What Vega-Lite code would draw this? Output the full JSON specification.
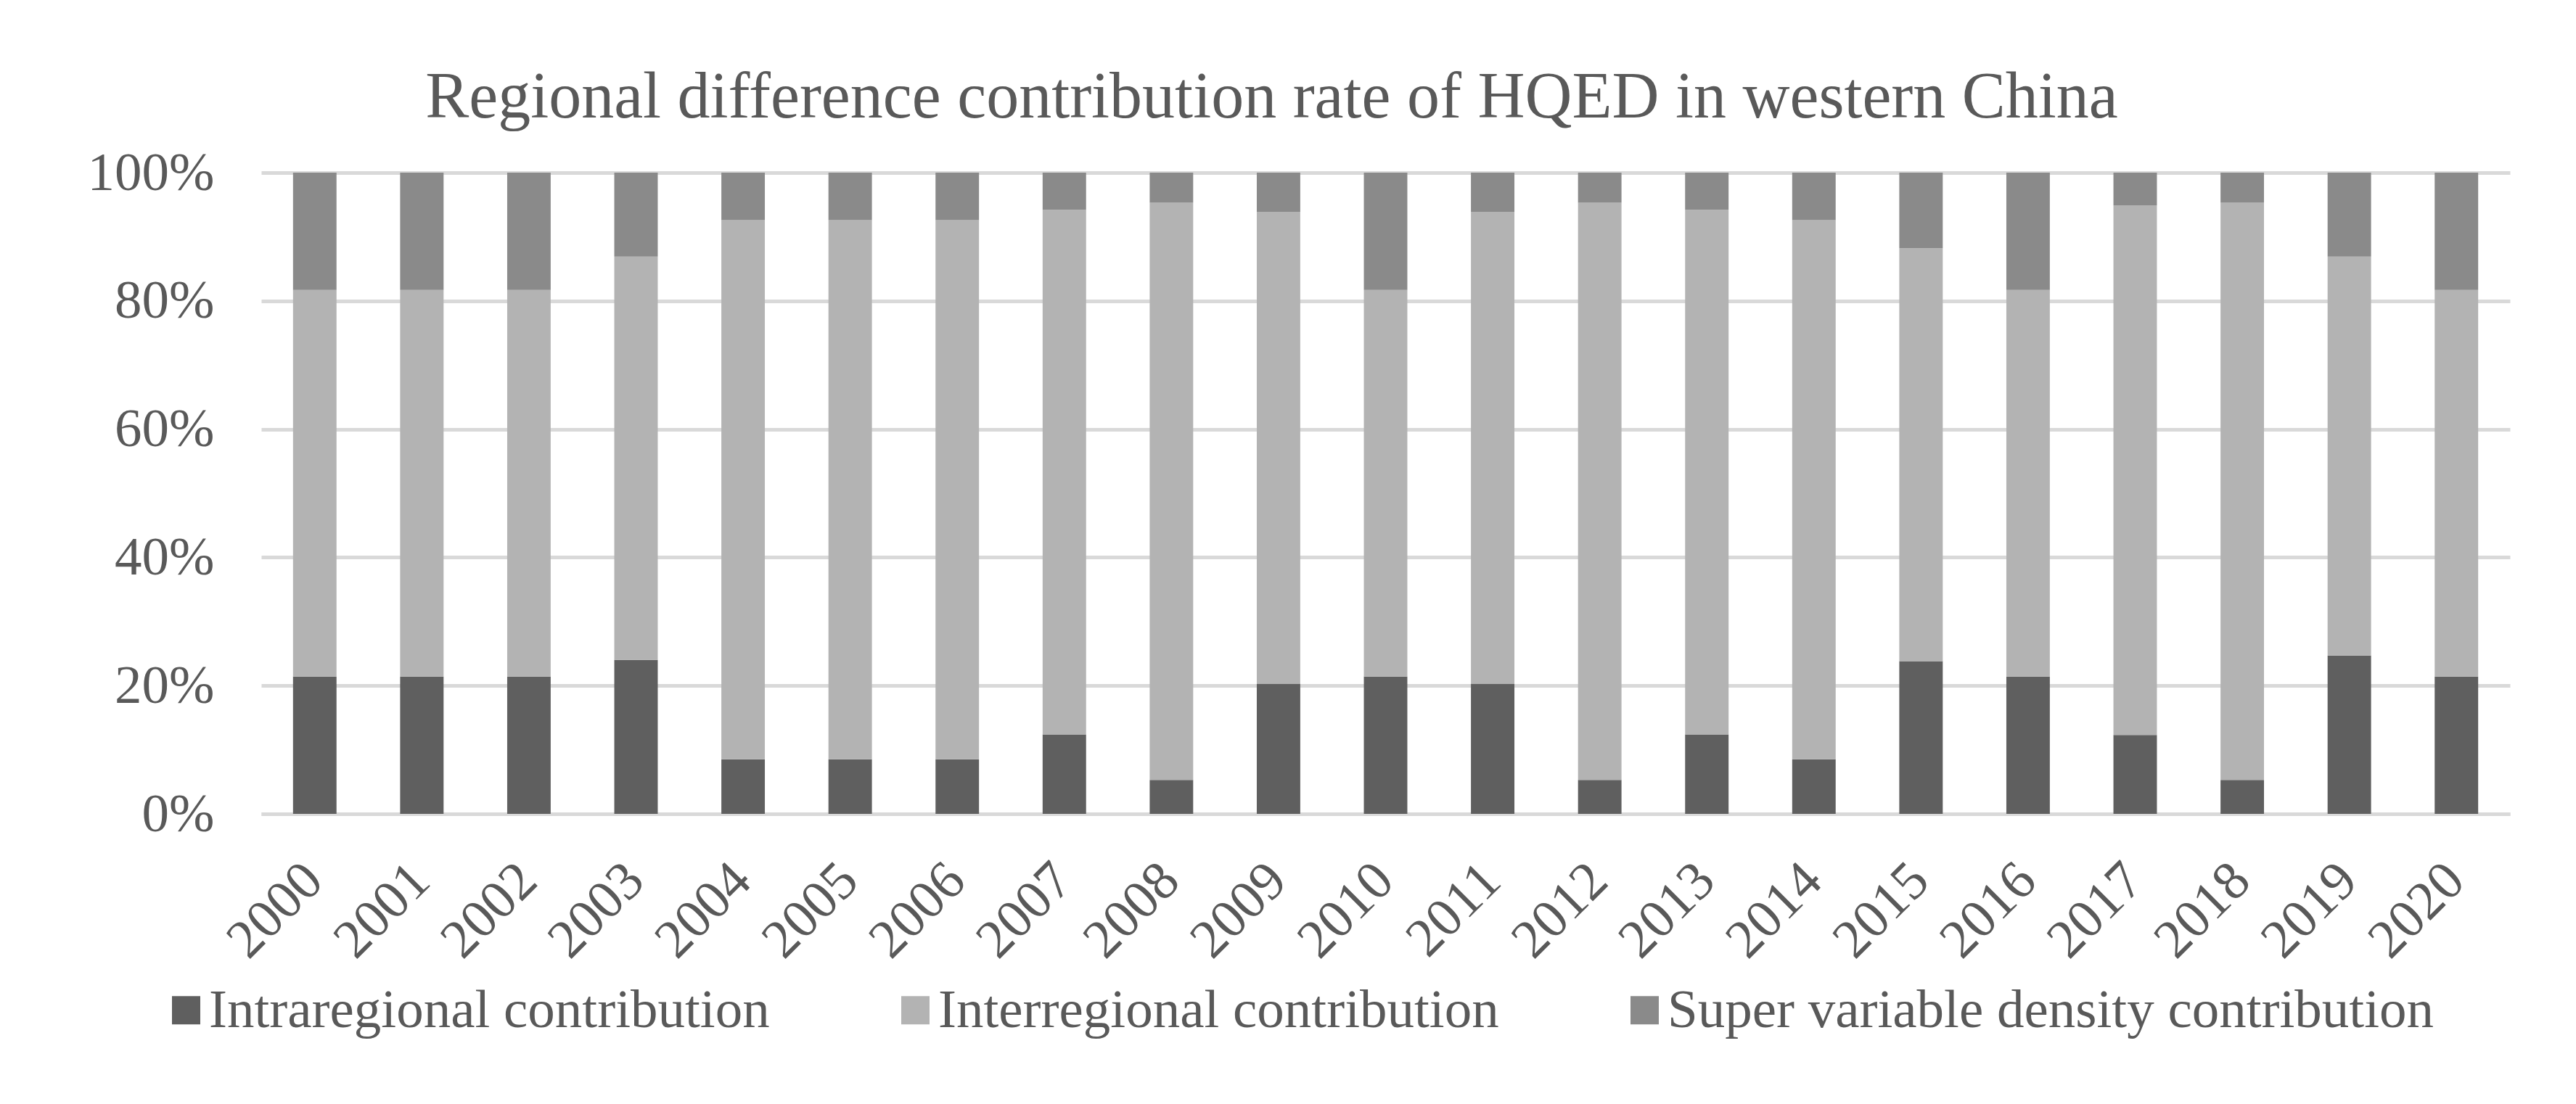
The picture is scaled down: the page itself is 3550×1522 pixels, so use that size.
{
  "$schema": "https://vega.github.io/schema/vega-lite/v6.json",
  "width": 3099,
  "height": 884,
  "autosize": {"type": "none"},
  "padding": {"left": 360, "top": 238, "right": 91, "bottom": 400},
  "background": "white",
  "config": {
    "font": "Liberation Serif",
    "view": {"stroke": null}
  },
  "title": {
    "text": "Regional difference contribution rate of HQED in western China",
    "font": "Liberation Serif",
    "fontSize": 90,
    "fontWeight": "normal",
    "color": "#595959",
    "anchor": "middle",
    "frame": "group",
    "baseline": "alphabetic",
    "dx": -157,
    "dy": 125,
    "offset": 74
  },
  "data": {
    "values": [
      {"year": "2000", "type": "Intraregional contribution", "order": 1, "value": 21.4},
      {"year": "2000", "type": "Interregional contribution", "order": 2, "value": 60.3},
      {"year": "2000", "type": "Super variable density contribution", "order": 3, "value": 18.3},
      {"year": "2001", "type": "Intraregional contribution", "order": 1, "value": 21.4},
      {"year": "2001", "type": "Interregional contribution", "order": 2, "value": 60.3},
      {"year": "2001", "type": "Super variable density contribution", "order": 3, "value": 18.3},
      {"year": "2002", "type": "Intraregional contribution", "order": 1, "value": 21.4},
      {"year": "2002", "type": "Interregional contribution", "order": 2, "value": 60.3},
      {"year": "2002", "type": "Super variable density contribution", "order": 3, "value": 18.3},
      {"year": "2003", "type": "Intraregional contribution", "order": 1, "value": 24.0},
      {"year": "2003", "type": "Interregional contribution", "order": 2, "value": 62.9},
      {"year": "2003", "type": "Super variable density contribution", "order": 3, "value": 13.1},
      {"year": "2004", "type": "Intraregional contribution", "order": 1, "value": 8.5},
      {"year": "2004", "type": "Interregional contribution", "order": 2, "value": 84.1},
      {"year": "2004", "type": "Super variable density contribution", "order": 3, "value": 7.4},
      {"year": "2005", "type": "Intraregional contribution", "order": 1, "value": 8.5},
      {"year": "2005", "type": "Interregional contribution", "order": 2, "value": 84.1},
      {"year": "2005", "type": "Super variable density contribution", "order": 3, "value": 7.4},
      {"year": "2006", "type": "Intraregional contribution", "order": 1, "value": 8.5},
      {"year": "2006", "type": "Interregional contribution", "order": 2, "value": 84.1},
      {"year": "2006", "type": "Super variable density contribution", "order": 3, "value": 7.4},
      {"year": "2007", "type": "Intraregional contribution", "order": 1, "value": 12.4},
      {"year": "2007", "type": "Interregional contribution", "order": 2, "value": 81.8},
      {"year": "2007", "type": "Super variable density contribution", "order": 3, "value": 5.8},
      {"year": "2008", "type": "Intraregional contribution", "order": 1, "value": 5.3},
      {"year": "2008", "type": "Interregional contribution", "order": 2, "value": 90.0},
      {"year": "2008", "type": "Super variable density contribution", "order": 3, "value": 4.7},
      {"year": "2009", "type": "Intraregional contribution", "order": 1, "value": 20.3},
      {"year": "2009", "type": "Interregional contribution", "order": 2, "value": 73.6},
      {"year": "2009", "type": "Super variable density contribution", "order": 3, "value": 6.1},
      {"year": "2010", "type": "Intraregional contribution", "order": 1, "value": 21.4},
      {"year": "2010", "type": "Interregional contribution", "order": 2, "value": 60.3},
      {"year": "2010", "type": "Super variable density contribution", "order": 3, "value": 18.3},
      {"year": "2011", "type": "Intraregional contribution", "order": 1, "value": 20.3},
      {"year": "2011", "type": "Interregional contribution", "order": 2, "value": 73.6},
      {"year": "2011", "type": "Super variable density contribution", "order": 3, "value": 6.1},
      {"year": "2012", "type": "Intraregional contribution", "order": 1, "value": 5.3},
      {"year": "2012", "type": "Interregional contribution", "order": 2, "value": 90.0},
      {"year": "2012", "type": "Super variable density contribution", "order": 3, "value": 4.7},
      {"year": "2013", "type": "Intraregional contribution", "order": 1, "value": 12.4},
      {"year": "2013", "type": "Interregional contribution", "order": 2, "value": 81.8},
      {"year": "2013", "type": "Super variable density contribution", "order": 3, "value": 5.8},
      {"year": "2014", "type": "Intraregional contribution", "order": 1, "value": 8.5},
      {"year": "2014", "type": "Interregional contribution", "order": 2, "value": 84.1},
      {"year": "2014", "type": "Super variable density contribution", "order": 3, "value": 7.4},
      {"year": "2015", "type": "Intraregional contribution", "order": 1, "value": 23.8},
      {"year": "2015", "type": "Interregional contribution", "order": 2, "value": 64.4},
      {"year": "2015", "type": "Super variable density contribution", "order": 3, "value": 11.8},
      {"year": "2016", "type": "Intraregional contribution", "order": 1, "value": 21.4},
      {"year": "2016", "type": "Interregional contribution", "order": 2, "value": 60.3},
      {"year": "2016", "type": "Super variable density contribution", "order": 3, "value": 18.3},
      {"year": "2017", "type": "Intraregional contribution", "order": 1, "value": 12.3},
      {"year": "2017", "type": "Interregional contribution", "order": 2, "value": 82.6},
      {"year": "2017", "type": "Super variable density contribution", "order": 3, "value": 5.1},
      {"year": "2018", "type": "Intraregional contribution", "order": 1, "value": 5.3},
      {"year": "2018", "type": "Interregional contribution", "order": 2, "value": 90.0},
      {"year": "2018", "type": "Super variable density contribution", "order": 3, "value": 4.7},
      {"year": "2019", "type": "Intraregional contribution", "order": 1, "value": 24.7},
      {"year": "2019", "type": "Interregional contribution", "order": 2, "value": 62.2},
      {"year": "2019", "type": "Super variable density contribution", "order": 3, "value": 13.1},
      {"year": "2020", "type": "Intraregional contribution", "order": 1, "value": 21.4},
      {"year": "2020", "type": "Interregional contribution", "order": 2, "value": 60.3},
      {"year": "2020", "type": "Super variable density contribution", "order": 3, "value": 18.3}
    ]
  },
  "mark": {"type": "bar", "strokeWidth": 0},
  "encoding": {
    "x": {
      "field": "year",
      "type": "nominal",
      "sort": null,
      "title": null,
      "scale": {"paddingInner": 0.594, "paddingOuter": 0.297},
      "axis": {
        "labelAngle": -45,
        "labelFont": "Liberation Serif",
        "labelFontSize": 75,
        "labelColor": "#595959",
        "labelPadding": 54,
        "labelOffset": -27,
        "ticks": false,
        "domain": true,
        "domainColor": "#d9d9d9",
        "domainWidth": 5,
        "grid": false
      }
    },
    "y": {
      "field": "value",
      "type": "quantitative",
      "stack": "normalize",
      "title": null,
      "scale": {"domain": [0, 1], "nice": false},
      "axis": {
        "values": [0, 0.2, 0.4, 0.6, 0.8, 1],
        "format": ".0%",
        "labelFont": "Liberation Serif",
        "labelFontSize": 75,
        "labelColor": "#595959",
        "labelPadding": 65,
        "ticks": false,
        "domain": false,
        "grid": true,
        "gridColor": "#d9d9d9",
        "gridWidth": 5
      }
    },
    "color": {
      "field": "type",
      "type": "nominal",
      "sort": ["Intraregional contribution", "Interregional contribution", "Super variable density contribution"],
      "scale": {
        "domain": ["Intraregional contribution", "Interregional contribution", "Super variable density contribution"],
        "range": ["#5f5f5f", "#b3b3b3", "#8a8a8a"]
      },
      "legend": {
        "title": null,
        "orient": "none",
        "direction": "horizontal",
        "legendX": -141,
        "legendY": 1117,
        "symbolType": "square",
        "symbolSize": 1521,
        "symbolStrokeWidth": 0,
        "labelFont": "Liberation Serif",
        "labelFontSize": 75,
        "labelColor": "#595959",
        "labelOffset": -6,
        "labelLimit": 2000,
        "columnPadding": 163
      }
    },
    "order": {"field": "order", "type": "quantitative"}
  }
}
